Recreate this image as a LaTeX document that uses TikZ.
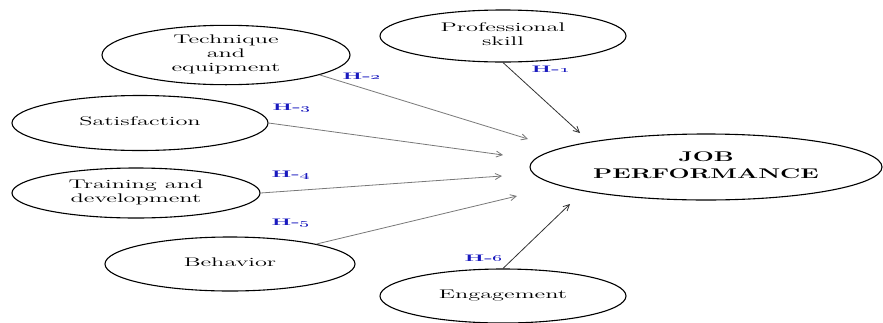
\documentclass[tikz,border=0pt]{standalone}
\usepackage{graphicx}
\usetikzlibrary{shapes.geometric,arrows.meta}
\definecolor{hblue}{RGB}{25,25,190}
\definecolor{lgray}{RGB}{120,120,120}
\definecolor{dgray}{RGB}{50,50,50}
\newcommand{\wtxt}[1]{\scalebox{1.95}[1]{\fontsize{12.5}{14}\selectfont\begin{tabular}{@{}c@{}}#1\end{tabular}}}
\newcommand{\jtxt}[1]{\scalebox{1.78}[1]{\fontsize{14}{17}\selectfont\bfseries\begin{tabular}{@{}c@{}}#1\end{tabular}}}
\newcommand{\htxt}[1]{\scalebox{2.3}[1]{\fontsize{9.5}{11}\selectfont\bfseries\color{hblue}H-\oldstylenums{#1}}}
\begin{document}
\begin{tikzpicture}[x=1pt,y=-1pt,
  oval/.style={draw, ellipse, line width=1.1pt, inner sep=0pt},
  hlab/.style={inner sep=0pt},
  lnk/.style={line width=0.8pt, draw=lgray, -{Straight Barb[length=6pt,width=6pt]}},
  dlnk/.style={line width=0.8pt, draw=dgray, -{Straight Barb[length=6pt,width=6pt]}}]
\useasboundingbox (0,0) rectangle (883,322);
\node[oval, minimum width=248pt, minimum height=54pt] (tech) at (226,55) {\wtxt{Technique\\and\\equipment}};
\node[oval, minimum width=246pt, minimum height=52pt] (prof) at (503,36) {\wtxt{Professional\\skill}};
\node[oval, minimum width=256pt, minimum height=55pt] (sat) at (140,123) {\wtxt{Satisfaction}};
\node[oval, minimum width=248pt, minimum height=50pt] (train) at (136,193) {\wtxt{Training and\\development}};
\node[oval, minimum width=250pt, minimum height=54pt] (beh) at (230,264) {\wtxt{Behavior}};
\node[oval, minimum width=246pt, minimum height=54pt] (eng) at (503,296) {\wtxt{Engagement}};
\node[oval, minimum width=352pt, minimum height=66pt] (job) at (706,167) {\jtxt{JOB\\PERFORMANCE}};
\coordinate (e1) at (580,133);
\coordinate (e2) at (528,139);
\coordinate (e3) at (503,155);
\coordinate (e4) at (502,176);
\coordinate (e5) at (517,196);
\coordinate (e6) at (570,204);
\draw[dlnk] (prof.south) -- (e1);
\draw[lnk] (tech.-12) -- (e2);
\draw[lnk] (sat.east) -- (e3);
\draw[lnk] (train.east) -- (e4);
\draw[lnk] (beh.13) -- (e5);
\draw[dlnk] (eng.north) -- (e6);
\node[hlab] (h1) at (551,69) {\htxt{1}};
\node[hlab] (h2) at (362,76) {\htxt{2}};
\node[hlab] (h3) at (292,108) {\htxt{3}};
\node[hlab] (h4) at (291,175) {\htxt{4}};
\node[hlab] (h5) at (291,223) {\htxt{5}};
\node[hlab] (h6) at (484,258) {\htxt{6}};
\end{tikzpicture}
\end{document}
